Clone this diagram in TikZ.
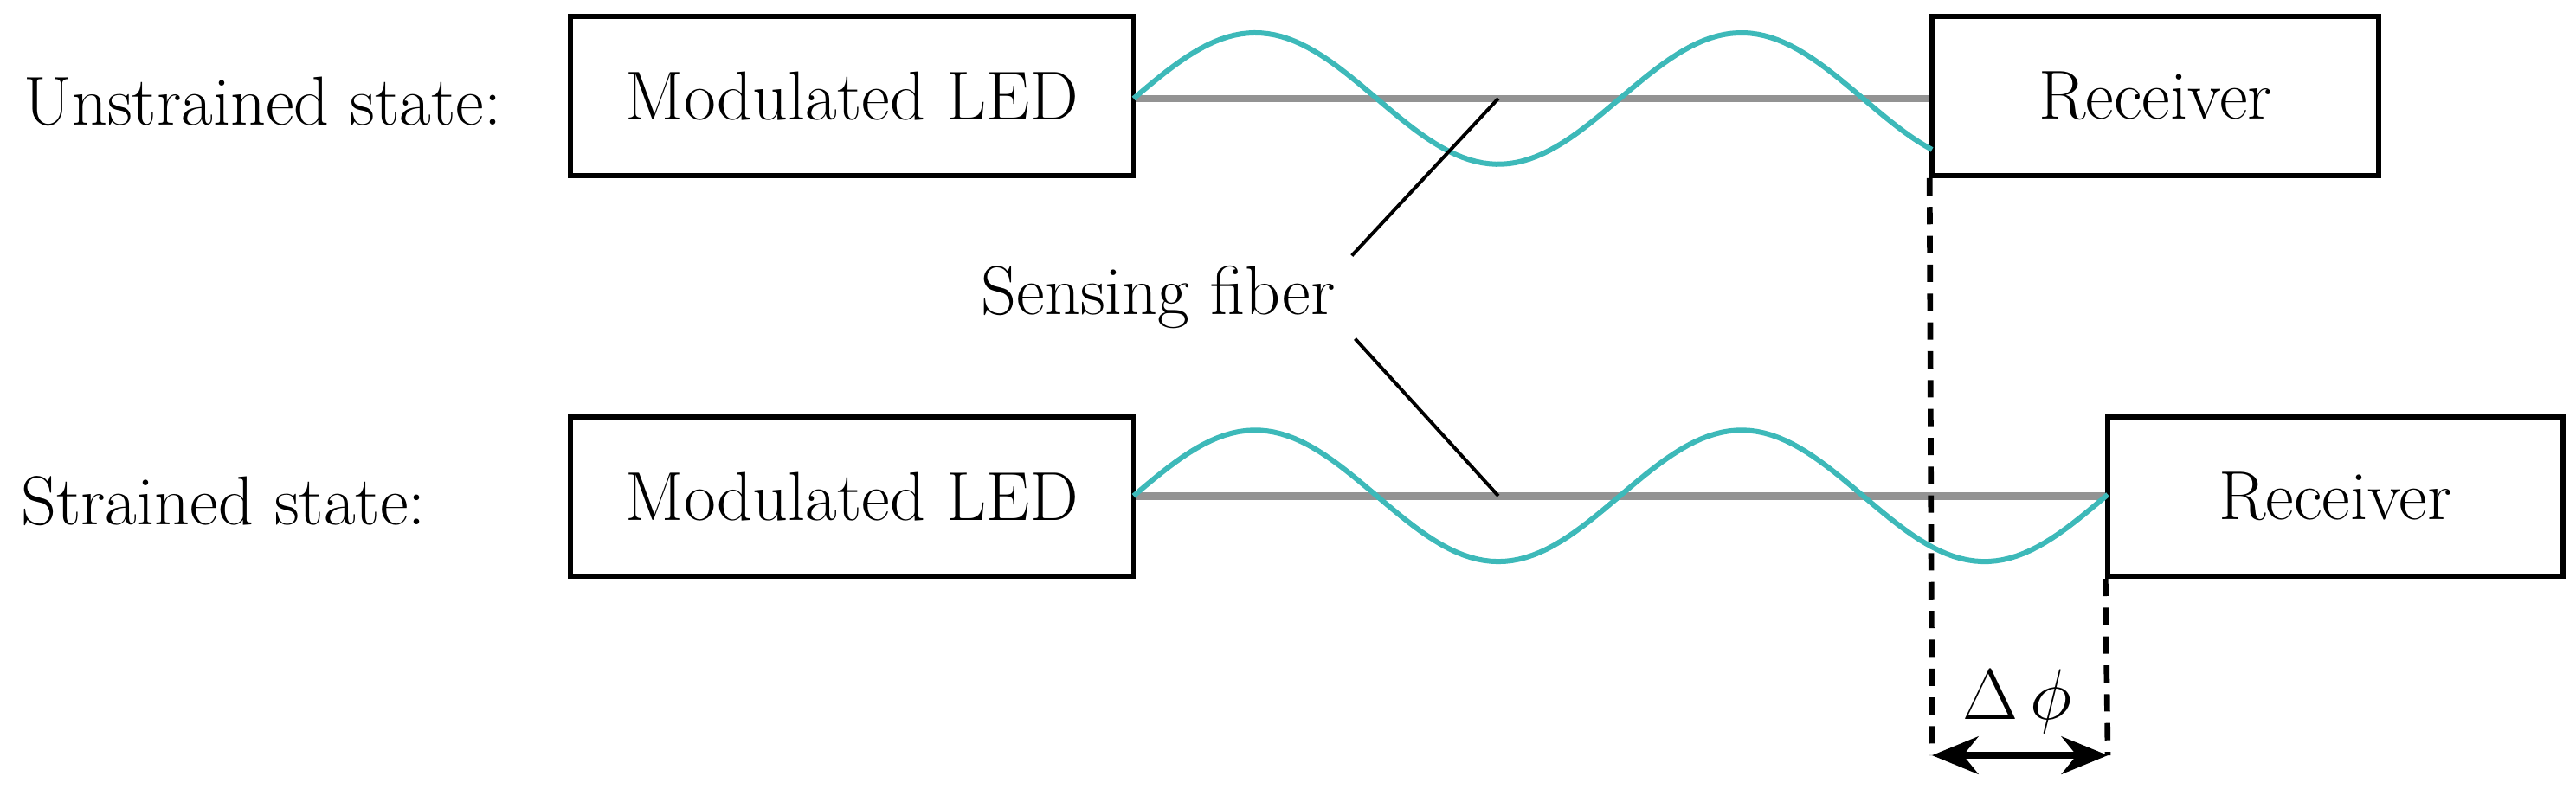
\documentclass[tikz,border=0pt]{standalone}
\usetikzlibrary{arrows.meta}
\definecolor{wavecyan}{HTML}{3DB9B9}
\begin{document}
\begin{tikzpicture}[x=0.02cm,y=-0.02cm,
    box/.style={rectangle, draw, line width=1.7pt, inner sep=0pt, minimum height=1.94cm, font=\fontsize{24}{28}\selectfont},
    lbl/.style={font=\fontsize{24}{28}\selectfont},
    fiber/.style={line width=2.6pt, gray!85},
    wave/.style={line width=1.8pt, color=wavecyan},
    ptr/.style={line width=1.2pt},
    marker/.style={line width=2pt, dash pattern=on 6pt off 4pt}]
  \useasboundingbox (0,0) rectangle (1568,480);

  % boxes
  \node [box, minimum width=6.86cm] (led1) at (518.5,58.5) {Modulated LED};
  \node [box, minimum width=5.44cm] (rec1) at (1312,58.5) {Receiver};
  \node [box, minimum width=6.86cm] (led2) at (518.5,302.5) {Modulated LED};
  \node [box, minimum width=5.54cm] (rec2) at (1421.5,302.5) {Receiver};

  % state labels
  \node [lbl] (st1) at (160,62) {Unstrained state:};
  \node [lbl] (st2) at (136,305) {Strained state:};

  % fibers and waves
  \draw [fiber] (led1.east |- 0,60) -- (rec1.west |- 0,60);
  \draw [fiber] (led2.east |- 0,302) -- (rec2.west |- 0,302);
  \draw [wave] plot [domain=690:1176, samples=120] (\x,{60-40*sin((\x-690)/296*360)});
  \draw [wave] plot [domain=690:1283, samples=140] (\x,{302-40*sin((\x-690)/296*360)});

  % sensing fiber
  \node [lbl] (sf) at (705,181) {Sensing fiber};
  \coordinate (f1) at (912,60);
  \coordinate (f2) at (912,302);
  \draw [ptr] (sf.north east) ++(4,0) -- (f1);
  \draw [ptr] (sf.south east) ++(6,0) -- (f2);

  % phase shift
  \coordinate (d1) at (1176,460);
  \coordinate (d2) at (1283,460);
  \draw [marker] (rec1.south west) -- (d1);
  \draw [marker] (rec2.south west) -- (d2);
  \draw [line width=2.4pt, {Stealth[length=16pt,width=13pt]}-{Stealth[length=16pt,width=13pt]}] (d1) -- (d2);
  \node [lbl] (dphi) at (1228,427) {$\Delta\,\phi$};
\end{tikzpicture}
\end{document}
